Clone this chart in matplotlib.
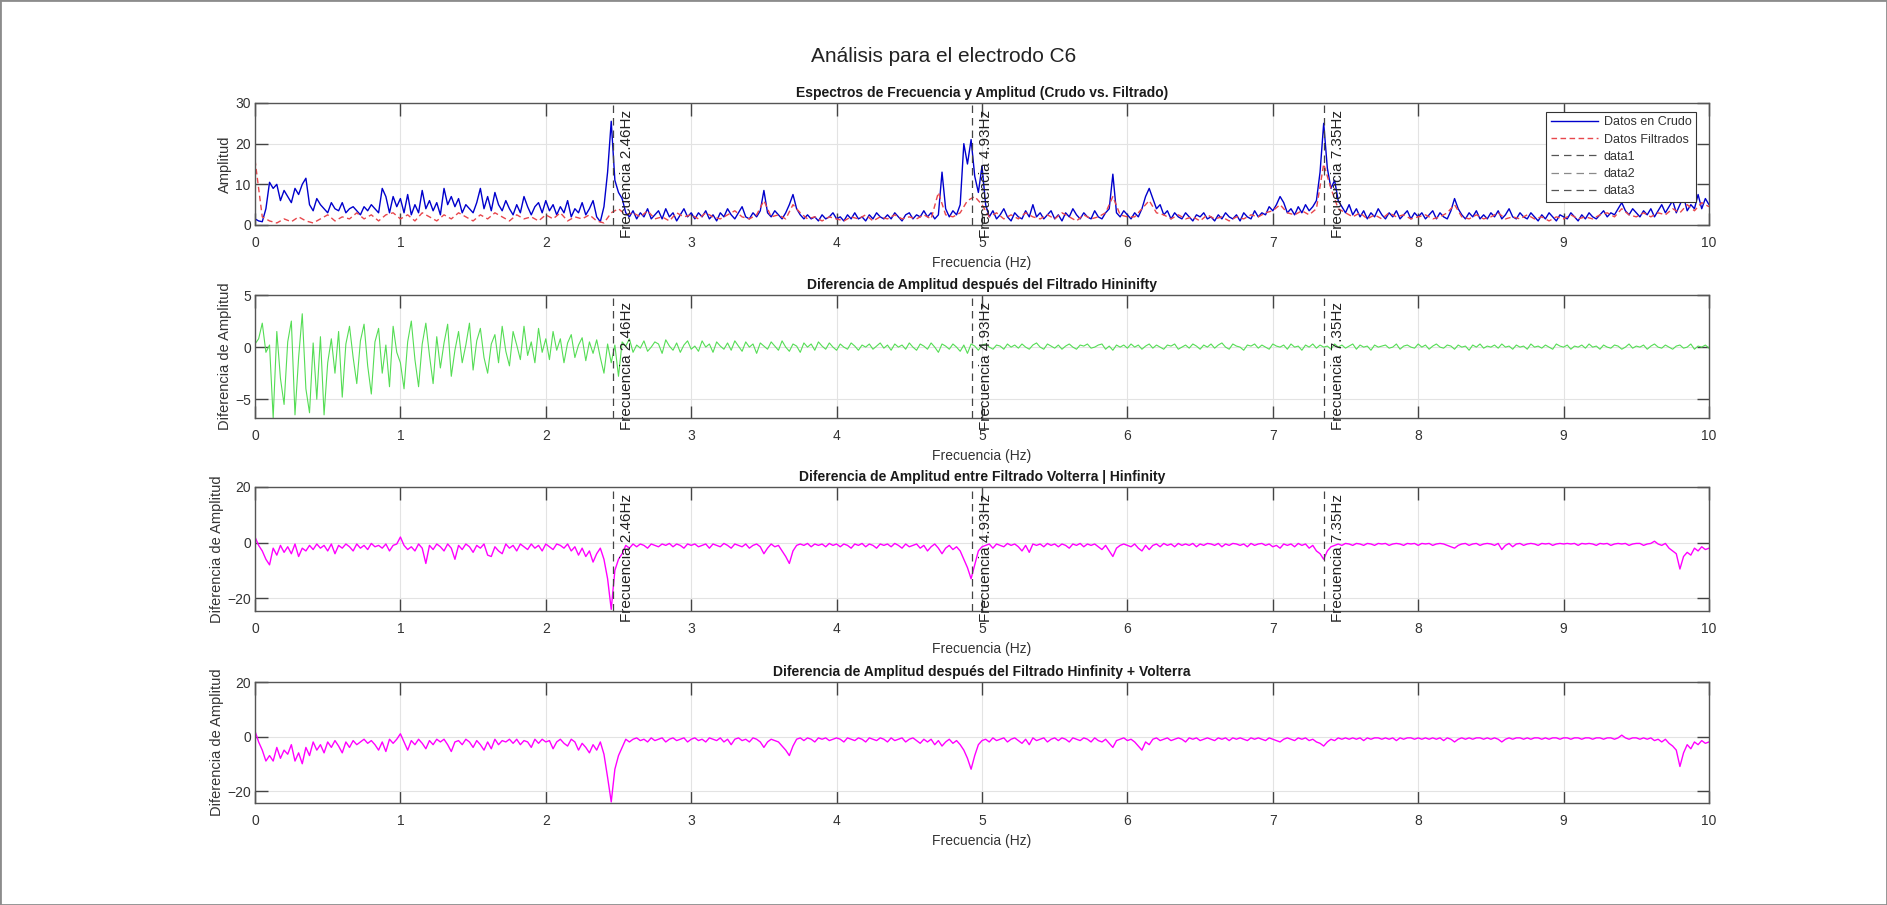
import numpy as np
import matplotlib.pyplot as plt
import matplotlib.transforms as mtransforms
from matplotlib.patches import Rectangle

plt.rcParams['font.family'] = ['Liberation Sans', 'DejaVu Sans']

# frequency grids (Hz)
freq = np.linspace(0, 10, 401)
freq_f = np.linspace(0, 10, 201)

# peaks marked with vertical lines
peak_freqs = [2.46, 4.93, 7.35]

# raw spectrum (Datos en Crudo), 0.025 Hz steps
raw = [
    1.5, 1.0, 0.8, 4.0, 10.5, 9.0, 10.0, 6.0, 8.5, 7.0,
    5.5, 9.0, 7.5, 10.0, 11.5, 5.0, 3.5, 6.5, 5.0, 4.0,
    3.0, 5.5, 4.0, 3.5, 5.5, 3.0, 4.0, 4.5, 3.5, 2.5,
    4.5, 3.5, 5.0, 4.0, 3.0, 9.0, 7.0, 3.0, 7.0, 4.5,
    6.5,
    3.0, 7.5, 2.5, 5.0, 3.0, 8.5, 4.0, 6.0, 3.5, 5.5,
    2.5, 9.0, 5.0, 7.0, 4.5, 6.5, 3.0, 5.0, 4.0, 3.0,
    5.5, 9.0, 4.0, 7.0, 3.5, 8.0, 5.0, 3.5, 6.0, 4.0,
    2.5, 5.0, 3.0, 7.0, 4.5, 2.5, 4.5, 5.5, 3.0, 6.0,
    3.5, 5.0, 2.5, 4.5, 3.0, 6.0, 2.0, 4.0, 3.0, 5.5,
    2.5, 4.0, 6.0, 2.0, 0.8, 4.5, 13.0, 25.5, 11.0, 8.0,
    6.5, 3.0, 2.0, 3.5, 1.5, 3.0, 2.0, 4.0, 1.5, 2.5,
    3.5, 1.5, 4.0, 2.0, 3.0, 1.0, 2.5, 4.0, 2.0, 3.0,
    1.5, 3.0, 2.0, 3.5, 1.5, 2.5, 1.0, 3.0, 2.0, 4.0,
    2.5, 1.5, 3.0, 4.5, 2.0, 1.5, 3.0, 2.0, 3.5, 8.5,
    3.0, 2.0, 3.5, 2.5, 1.5, 3.0, 5.0, 7.5, 4.0, 2.5,
    1.5, 2.5, 1.5, 2.0, 1.0, 2.5, 1.5, 2.0, 3.0, 1.5,
    2.0, 1.0, 2.5, 1.5, 3.0, 1.5, 2.0, 1.0, 2.5, 1.5,
    3.0, 2.0, 1.5, 2.5, 1.5, 3.0, 2.0, 1.0, 2.5, 3.0,
    1.5, 2.5, 2.0, 3.5, 2.0, 3.0, 1.5, 2.5, 13.0, 4.0,
    2.0, 3.5, 2.5, 5.0, 20.0, 15.0, 21.0, 12.0, 8.0, 14.5,
    5.0, 2.0, 3.5, 1.5, 2.5, 4.0, 2.0, 1.0, 3.0, 2.0,
    1.5, 3.5, 2.0, 5.0, 2.0, 3.0, 1.5, 2.5, 3.5, 1.5,
    2.5, 1.0, 3.0, 2.0, 4.0, 2.5, 1.5, 3.0, 2.0, 1.5,
    3.5, 2.0, 1.5, 3.0, 4.0, 12.5, 3.0, 2.0, 3.5, 2.5,
    1.5, 3.0, 2.0, 4.0, 7.0, 9.0, 6.5, 4.0, 5.0, 2.5,
    3.5, 1.5, 3.0, 2.0, 1.5, 3.0, 2.0, 1.0, 2.5, 2.0,
    3.0, 1.5, 2.0, 1.0, 2.5, 1.5, 3.0, 2.0, 1.5, 2.5,
    1.0, 3.0, 2.0, 1.5, 3.5, 2.0, 3.0, 2.5, 4.5, 3.5,
    5.0, 7.0, 5.5, 3.0, 4.0, 2.5, 4.5, 3.0, 5.0, 3.5,
    4.5, 6.0, 13.0, 25.0, 14.0, 9.0, 11.0, 6.0, 4.5, 3.0,
    5.0, 2.5, 4.0, 2.0, 3.5, 1.5, 3.0, 2.0, 4.0, 2.5,
    1.5, 3.0, 2.0, 3.5, 1.5, 2.5, 3.5, 1.5, 3.0, 2.0,
    3.0, 1.5, 2.5, 3.5, 1.5, 3.0, 2.0, 1.5, 3.5, 6.5,
    4.0, 2.5, 1.5, 3.0, 2.0, 3.5, 1.5, 2.5, 1.5, 3.0,
    2.0, 3.5, 1.5, 2.5, 4.0, 2.0, 1.5, 3.0, 2.0, 1.5,
    3.0, 2.0, 1.0, 2.5, 1.5, 3.0, 2.0, 1.0, 2.5, 2.0,
    1.5, 3.0, 2.0, 1.0, 2.5, 1.5, 3.0, 2.0, 1.5, 2.5,
    3.5, 2.0, 3.0, 2.5, 4.0, 5.5, 3.5, 2.5, 4.0, 3.0,
    2.0, 3.5, 2.5, 4.0, 2.0, 3.5, 5.0, 3.0, 4.5, 6.0,
    3.0, 5.0, 7.0, 3.5, 5.0, 4.0, 7.5, 4.0, 6.5, 5.0,
]

# filtered spectrum (Datos Filtrados), 0.05 Hz steps
filtered = [
    16.0, 2.0, 1.0, 0.5, 1.5, 0.8, 2.0, 1.0, 0.5, 1.5,
    2.5, 1.0, 2.0, 1.5, 3.0, 1.5, 2.5, 1.0, 2.5, 3.0,
    1.5,
    2.5, 1.0, 3.0, 2.0, 1.0, 2.5, 1.5, 3.0, 2.0, 1.0,
    2.5, 1.5, 3.0, 2.0, 1.0, 2.5, 1.5, 2.0, 1.0, 2.5,
    1.5, 3.0, 1.0, 2.0, 1.5, 2.5, 1.0, 0.5, 3.0, 4.0,
    2.5, 3.0, 2.0, 3.5, 1.5, 2.0, 1.0, 3.0, 2.0, 2.5,
    1.5, 3.0, 2.0, 1.5, 2.5, 3.5, 2.0, 1.5, 2.5, 6.0,
    2.0, 2.5, 1.5, 5.0, 3.0, 1.5, 2.0, 1.0, 2.0, 1.5,
    1.0, 2.0, 1.5, 2.5, 1.0, 2.0, 1.5, 2.5, 1.5, 2.0,
    1.5, 2.5, 1.5, 8.0, 2.5, 2.0, 3.0, 6.0, 7.0, 5.0,
    2.0, 3.0, 1.5, 2.5, 1.5, 3.0, 2.0, 1.5, 2.5, 1.5,
    3.0, 2.0, 1.0, 2.5, 1.5, 2.0, 3.0, 7.0, 2.5, 2.0,
    2.0, 4.0, 6.0, 3.0, 2.5, 1.5, 2.5, 1.5, 2.0, 1.0,
    2.5, 1.5, 2.0, 1.0, 2.0, 1.5, 2.5, 2.0, 3.0, 3.5,
    5.0, 3.0, 2.5, 3.5, 2.5, 4.0, 15.0, 9.0, 4.0, 3.0,
    2.0, 3.0, 1.5, 2.5, 1.5, 3.0, 2.0, 2.5, 1.5, 2.0,
    2.5, 1.5, 2.0, 3.0, 5.0, 2.0, 1.5, 2.5, 1.5, 2.0,
    3.0, 1.5, 2.0, 1.5, 2.5, 1.5, 2.0, 1.0, 2.0, 1.5,
    2.5, 1.5, 2.0, 1.5, 2.5, 3.0, 2.0, 4.0, 2.5, 2.0,
    3.0, 2.0, 3.0, 2.5, 4.0, 3.0, 5.0, 3.5, 5.5, 4.5,
]

# difference after Hinfinity filtering
diff_hinf = [
    0.3, 0.8, 2.3, -0.5, 0.2, -6.8, 1.5, -3.0, -5.5, 0.5,
    2.5, -6.5, -1.0, 3.2, -4.0, -6.3, 0.4, -5.0, 1.0, -6.5,
    -1.5, 0.8, -2.5, 1.5, -4.8, 0.3, 2.0, -1.0, -3.5, 0.6,
    2.2, -1.8, -4.5, 0.5, 1.8, -2.5, 0.2, -3.8, 2.0, -0.5,
    -1.5,
    -4.0, 0.5, 2.5, -1.2, -3.8, 0.3, 2.3, -0.8, -3.5, 1.0,
    -2.0, 0.4, 2.2, -2.8, -0.3, 1.5, -1.5, 0.2, 2.3, -2.2,
    0.6, 1.8, -1.0, -2.5, 0.3, 1.2, -1.5, 2.0, -0.4, -1.8,
    1.5, 0.2, -1.2, 2.0, -0.8, 0.5, -1.5, 1.8, -0.5, 0.8,
    -1.2, 1.5, -0.3, 0.8, -1.5, 0.4, 1.2, -1.0, 0.2, 0.9,
    -1.3, 0.5, -0.6, 0.7, -1.0, -2.5, 0.3, -1.5, 0.2, -2.8,
    0.5, 0.1, 0.8, -0.5, 0.2, -0.1, 0.6, -0.4, 0.0, 0.5,
    0.3, -0.6, 0.7, 0.1, -0.3, 0.4, -0.5, 0.2, 0.6, -0.2,
    0.1, -0.4, 0.6, 0.0, 0.3, -0.5, 0.5, 0.1, -0.2, 0.4,
    -0.3, 0.6, 0.1, -0.4, 0.5, 0.0, 0.3, -0.6, 0.4, 0.1,
    -0.2, 0.5, 0.1, -0.3, 0.6, 0.0, -0.4, 0.3, 0.1, -0.5,
    0.4, 0.0, 0.3, -0.3, 0.5, 0.1, -0.2, 0.4, 0.0, -0.3,
    0.3, 0.0, -0.2, 0.4, 0.1, -0.3, 0.2, 0.0, 0.3, -0.2,
    0.1, 0.4, -0.1, 0.2, -0.3, 0.3, 0.0, 0.2, -0.2, 0.4,
    0.0, -0.3, 0.3, 0.1, -0.2, 0.4, 0.0, -0.5, 0.3, 0.1,
    -0.2, 0.3, 0.0, -0.4, 0.2, -0.6, 0.3, 0.1, -0.3, 0.2,
    0.3, 0.0, -0.2, 0.2, 0.1, -0.2, 0.3, 0.0, 0.2, -0.1,
    0.3, 0.0, -0.2, 0.2, 0.4, 0.0, -0.2, 0.3, 0.1, -0.1,
    0.2, -0.2, 0.1, 0.3, 0.0, -0.2, 0.2, 0.1, 0.3, -0.1,
    0.0, 0.2, 0.3, -0.2, 0.1, -0.3, 0.2, 0.0, 0.2, -0.1,
    0.3, 0.0, 0.2, -0.2, 0.1, 0.3, -0.1, 0.2, 0.0, -0.2,
    0.2, 0.1, 0.3, -0.2, 0.0, 0.2, -0.1, 0.3, 0.1, -0.2,
    0.2, 0.0, 0.3, -0.1, 0.2, 0.4, 0.0, -0.2, 0.3, 0.1,
    0.0, -0.3, 0.2, 0.1, 0.3, -0.1, 0.2, 0.0, -0.2, 0.3,
    0.1, 0.0, 0.2, -0.2, 0.3, 0.0, 0.1, -0.3, 0.2, 0.0,
    0.3, -0.1, 0.2, 0.0, 0.1, -0.2, 0.3, 0.0, 0.2, -0.1,
    0.1, 0.3, -0.2, 0.2, 0.0, 0.1, -0.3, 0.2, 0.0, 0.1,
    0.2, -0.1, 0.0, 0.3, -0.2, 0.1, 0.2, 0.0, -0.1, 0.3,
    0.0, 0.2, -0.2, 0.1, 0.3, 0.0, -0.1, 0.2, 0.1, -0.2,
    0.2, 0.0, 0.1, -0.3, 0.2, 0.0, 0.3, -0.1, 0.1, 0.0,
    0.2, -0.1, 0.3, 0.0, 0.1, -0.2, 0.2, 0.0, 0.1, -0.2,
    0.3, 0.0, 0.1, -0.1, 0.2, 0.0, -0.2, 0.3, 0.1, 0.0,
    0.2, -0.2, 0.1, 0.0, 0.2, -0.1, 0.3, 0.0, 0.1, -0.2,
    0.2, 0.0, -0.1, 0.2, 0.1, -0.2, 0.0, 0.3, -0.1, 0.1,
    0.0, 0.2, -0.2, 0.1, 0.3, 0.0, -0.1, 0.2, 0.0, -0.2,
    0.1, 0.2, -0.1, 0.0, 0.3, -0.2, 0.1, 0.0, 0.2, -0.1,
]

# difference between Volterra and Hinfinity filtering
diff_volt_hinf = [
    2.0, -1.0, -3.0, -6.0, -8.0, -2.0, -4.5, -1.0, -3.5, -1.5,
    -4.0, -0.5, -5.0, -2.0, -3.0, -1.0, -2.5, -0.5, -2.0, -1.0,
    -3.0, -0.5, -4.0, -1.0, -2.0, -0.5, -1.5, -3.0, -0.5, -2.0,
    -1.0, -2.5, -0.3, -1.5, -1.0, -2.0, -0.5, -3.0, -1.0, -0.5,
    2.0,
    -1.0, -2.5, -1.5, -3.0, -0.5, -2.0, -7.5, -1.0, -2.5, -0.5,
    -1.5, -3.0, -0.5, -2.0, -6.0, -1.0, -2.5, -0.5, -1.5, -3.5,
    -1.0, -2.0, -0.5, -4.5, -5.0, -1.5, -3.0, -4.0, -0.5, -2.0,
    -1.0, -3.0, -0.5, -1.5, -2.5, -0.5, -2.0, -1.0, -3.0, -0.5,
    -1.5, -2.5, -0.5, -1.0, -2.0, -0.5, -3.0, -1.5, -4.5, -2.0,
    -5.0, -3.0, -7.0, -4.0, -2.0, -6.0, -13.0, -24.0, -10.0, -6.0,
    -4.0, -1.0, -2.0, -0.5, -1.5, -0.5, -1.0, -2.0, -0.5, -1.0,
    -1.5, -0.5, -1.0, -0.3, -1.5, -0.5, -1.0, -2.0, -0.5, -1.0,
    -0.5, -1.5, -1.0, -0.5, -2.0, -0.5, -1.0, -1.5, -0.3, -1.0,
    -2.0, -0.5, -1.0, -1.5, -0.5, -2.0, -1.0, -0.5, -1.5, -4.0,
    -2.0, -0.5, -1.5, -1.0, -3.0, -5.0, -7.5, -3.0, -1.0, -0.5,
    -1.0, -0.3, -1.5, -0.5, -1.0, -0.5, -1.5, -0.3, -1.0, -0.5,
    -1.5, -0.5, -1.0, -2.0, -0.5, -1.0, -0.3, -1.5, -0.5, -1.0,
    -2.0, -0.5, -1.0, -0.5, -1.5, -0.3, -1.0, -2.0, -0.5, -1.5,
    -1.0, -0.5, -2.0, -1.0, -3.0, -1.5, -0.5, -2.0, -4.0, -2.0,
    -1.0, -2.5, -1.5, -3.0, -6.0, -9.0, -13.0, -8.0, -3.0, -1.5,
    -1.0, -0.5, -2.0, -0.5, -1.0, -1.5, -0.3, -1.0, -0.5, -1.5,
    -3.0, -1.0, -3.5, -0.5, -1.0, -0.5, -1.5, -0.3, -1.0, -0.5,
    -1.5, -0.5, -1.0, -2.0, -0.5, -1.0, -0.3, -1.5, -0.5, -1.0,
    -0.5, -1.5, -2.5, -1.0, -3.0, -5.0, -2.0, -1.0, -0.5, -1.0,
    -1.5, -0.5, -2.0, -3.0, -1.0, -2.5, -1.0, -0.5, -1.5, -0.3,
    -1.0, -0.5, -1.5, -0.3, -1.0, -0.5, -1.0, -0.3, -1.5, -0.5,
    -1.0, -0.3, -0.5, -1.0, -0.3, -1.5, -0.5, -1.0, -0.3, -0.5,
    -1.0, -0.5, -1.5, -0.3, -1.0, -0.5, -0.3, -1.0, -0.5, -1.5,
    -1.0, -2.0, -0.5, -1.0, -0.5, -1.5, -0.3, -1.0, -0.5, -2.0,
    -1.0, -3.0, -4.0, -6.0, -3.0, -1.5, -1.0, -0.5, -1.0, -0.3,
    -0.5, -1.0, -0.3, -0.5, -1.0, -0.3, -0.5, -1.0, -0.3, -0.5,
    -0.3, -1.0, -0.5, -0.3, -0.5, -1.0, -0.3, -0.5, -0.3, -1.0,
    -0.3, -0.5, -0.3, -1.0, -0.5, -0.3, -0.5, -1.0, -1.5, -2.0,
    -1.0, -0.5, -0.3, -1.0, -0.5, -0.3, -1.0, -0.5, -0.3, -0.5,
    -1.0, -0.3, -2.5, -1.0, -0.3, -1.5, -0.5, -0.3, -1.0, -0.5,
    -0.3, -0.5, -1.0, -0.3, -0.5, -0.3, -1.0, -0.5, -0.3, -0.5,
    -0.3, -0.5, -0.3, -1.0, -0.3, -0.5, -0.3, -0.5, -1.0, -0.3,
    -0.5, -0.3, -1.0, -0.5, -0.3, -0.5, -0.3, -1.0, -0.5, -0.3,
    -0.3, -1.0, -0.5, -0.3, 0.5, -0.5, -1.0, -0.3, -2.0, -3.0,
    -4.0, -9.5, -5.0, -3.5, -4.5, -2.0, -3.0, -1.5, -2.5, -2.0,
]

# difference after Hinfinity + Volterra filtering
diff_hinf_volt = [
    2.0, -2.0, -5.0, -9.0, -7.0, -9.0, -4.0, -8.0, -5.0, -6.5,
    -3.0, -9.0, -6.0, -10.0, -4.0, -7.0, -2.0, -5.0, -3.0, -6.0,
    -2.0, -4.0, -1.5, -3.5, -6.0, -2.0, -4.0, -1.5, -3.0, -2.0,
    -1.0, -2.5, -1.5, -3.0, -5.0, -2.0, -5.5, -1.0, -2.5, -1.0,
    1.0,
    -2.0, -5.0, -1.5, -3.0, -1.0, -2.5, -4.5, -1.5, -3.0, -1.0,
    -2.0, -1.0, -3.0, -5.5, -2.0, -1.5, -3.0, -1.0, -2.0, -4.0,
    -1.5, -3.0, -5.0, -2.0, -4.5, -1.0, -3.0, -1.5, -2.0, -1.0,
    -2.5, -1.0, -3.0, -1.5, -2.0, -4.0, -1.0, -2.5, -1.0, -2.0,
    -1.5, -4.5, -2.0, -1.0, -2.5, -3.5, -1.0, -2.0, -5.0, -2.5,
    -4.0, -6.0, -3.0, -5.0, -2.0, -6.5, -15.0, -24.0, -12.0, -7.0,
    -4.0, -1.0, -2.0, -1.0, -0.5, -1.5, -1.0, -2.0, -0.5, -1.5,
    -1.0, -0.5, -2.0, -1.0, -0.5, -1.5, -1.0, -0.5, -2.0, -1.0,
    -0.5, -1.5, -1.0, -2.0, -0.5, -1.0, -1.5, -0.5, -2.0, -1.0,
    -3.0, -1.0, -0.5, -1.5, -1.0, -2.0, -0.5, -1.0, -2.0, -4.0,
    -2.0, -1.0, -1.5, -2.0, -3.5, -5.0, -7.0, -3.5, -1.0, -0.5,
    -1.5, -0.5, -1.0, -2.0, -0.5, -1.0, -0.5, -1.5, -1.0, -0.5,
    -1.0, -2.0, -0.5, -1.0, -1.5, -0.5, -1.0, -2.0, -0.5, -1.0,
    -1.5, -0.5, -1.0, -2.0, -0.5, -1.5, -1.0, -0.5, -2.0, -1.0,
    -0.5, -1.5, -2.5, -1.0, -2.0, -1.0, -3.0, -1.5, -3.5, -2.0,
    -1.0, -2.5, -1.5, -3.0, -5.0, -8.0, -12.0, -7.0, -3.0, -1.5,
    -1.0, -2.0, -0.5, -1.5, -1.0, -0.5, -2.0, -1.0, -0.5, -1.5,
    -2.5, -1.0, -3.0, -0.5, -1.5, -1.0, -0.5, -2.0, -1.0, -0.5,
    -1.5, -0.5, -1.0, -2.0, -0.5, -1.0, -1.5, -0.5, -1.0, -2.0,
    -0.5, -1.5, -2.0, -1.0, -2.5, -4.0, -1.5, -1.0, -0.5, -1.5,
    -1.0, -2.0, -3.5, -5.0, -2.0, -3.0, -1.0, -0.5, -1.5, -1.0,
    -0.5, -1.5, -1.0, -0.5, -1.0, -2.0, -0.5, -1.0, -0.5, -1.5,
    -1.0, -0.5, -1.0, -1.5, -0.5, -1.0, -0.5, -1.5, -0.5, -1.0,
    -0.5, -1.0, -1.5, -0.5, -1.0, -0.5, -1.0, -1.5, -0.5, -1.0,
    -1.5, -2.0, -1.0, -0.5, -1.0, -1.5, -0.5, -1.0, -0.5, -1.5,
    -1.0, -2.0, -2.5, -3.5, -2.0, -1.0, -1.5, -0.5, -1.0, -0.5,
    -1.0, -0.5, -1.0, -0.5, -1.5, -0.5, -1.0, -0.5, -0.5, -1.0,
    -0.5, -1.0, -0.5, -1.5, -0.5, -1.0, -0.5, -0.5, -1.0, -0.5,
    -1.0, -0.5, -1.0, -0.5, -1.0, -0.5, -1.5, -0.5, -1.0, -2.0,
    -1.0, -0.5, -1.0, -0.5, -1.0, -0.5, -0.5, -1.0, -0.5, -1.0,
    -0.5, -1.0, -2.0, -1.0, -0.5, -1.0, -0.5, -0.5, -1.0, -0.5,
    -1.0, -0.5, -0.5, -1.0, -0.5, -1.0, -0.5, -0.5, -1.0, -0.5,
    -0.5, -1.0, -0.5, -0.5, -1.0, -0.5, -0.5, -1.0, -0.5, -0.5,
    -1.0, -0.5, -0.5, -1.0, -0.5, 0.5, -0.5, -1.0, -0.5, -0.5,
    -1.0, -0.5, -1.0, -0.5, -1.5, -1.0, -2.0, -1.0, -2.5, -3.5,
    -5.0, -11.0, -6.0, -3.0, -4.5, -2.0, -3.0, -1.5, -2.5, -2.0,
]

x_ticks = list(range(0, 11))
titles = [
    'Espectros de Frecuencia y Amplitud (Crudo vs. Filtrado)',
    'Diferencia de Amplitud después del Filtrado Hininifty',
    'Diferencia de Amplitud entre Filtrado Volterra | Hinfinity',
    'Diferencia de Amplitud después del Filtrado Hinfinity + Volterra',
]
y_labels = ['Amplitud', 'Diferencia de Amplitud', 'Diferencia de Amplitud', 'Diferencia de Amplitud']
y_limits = [(0, 30), (-6.8, 5), (-24.6, 20), (-24.4, 20)]
y_ticks = [[0, 10, 20, 30], [-5, 0, 5], [-20, 0, 20], [-20, 0, 20]]

W, H = 1887, 905
fig = plt.figure(figsize=(W / 100, H / 100), dpi=100)

# axes boxes in pixels: (top, bottom)
boxes = [(103, 225), (295, 418), (487, 611), (682, 803)]
left, right = 255, 1709

axes = []
for top, bottom in boxes:
    ax = fig.add_axes([left / W, 1 - bottom / H, (right - left) / W, (bottom - top) / H])
    axes.append(ax)

ink = '#333333'
for k, ax in enumerate(axes):
    ax.set_xlim(0, 10)
    ax.set_ylim(*y_limits[k])
    ax.set_xticks(x_ticks)
    ax.set_yticks(y_ticks[k])
    ax.grid(True, color='#e3e3e3', linewidth=0.8)
    ax.set_axisbelow(True)
    ax.tick_params(direction='in', length=9, width=1, color='#444444',
                   labelsize=10, labelcolor=ink, top=True, right=True)
    ax.tick_params(axis='x', pad=8)
    ax.tick_params(axis='y', pad=3)
    for s in ax.spines.values():
        s.set_color('#555555')
        s.set_linewidth(1.0)
    ax.set_title(titles[k], fontsize=10, fontweight='bold', color='#1a1a1a', pad=4)
    ax.set_xlabel('Frecuencia (Hz)', fontsize=10, color=ink, labelpad=4)
    ax.set_ylabel(y_labels[k], fontsize=10.5, color=ink, labelpad=2)

# panel 1: spectra
ax = axes[0]
l_raw, = ax.plot(freq, raw, color='#0000cc', linewidth=1.0, label='Datos en Crudo')
l_filt, = ax.plot(freq_f, filtered, color='#e8474c', linewidth=1.0, linestyle=(0, (4, 2.5)),
                  label='Datos Filtrados')

axes[1].plot(freq, diff_hinf, color='#55dd55', linewidth=0.8)
axes[2].plot(freq, diff_volt_hinf, color='#ff00ff', linewidth=1.0)
axes[3].plot(freq, diff_hinf_volt, color='#ff00ff', linewidth=1.0)

# vertical peak markers on first three panels
vline_colors = ['#555555', '#8a8a8a', '#555555']
for k in range(3):
    ax = axes[k]
    trans = mtransforms.offset_copy(ax.get_xaxis_transform(), fig=fig, x=7, y=-7, units='dots')
    for j, pf in enumerate(peak_freqs):
        ax.axvline(pf, color='#444444', linewidth=0.9, linestyle=(0, (6, 4)))
        ax.text(pf, 1.0, 'Frecuencia %.2fHz' % pf, transform=trans, rotation=90,
                ha='left', va='top', fontsize=11, color='#222222', clip_on=False)

# legend entries for the xlines (data1..3)
handles = [l_raw, l_filt]
for j in range(3):
    h, = axes[0].plot([], [], color=vline_colors[j], linewidth=0.9, linestyle=(0, (6, 4)),
                      label='data%d' % (j + 1))
    handles.append(h)
ax_w = right - left
ax_h = boxes[0][1] - boxes[0][0]
leg = axes[0].legend(handles=handles, loc='upper right',
                     bbox_to_anchor=(1 - 13 / ax_w, 1 - 9 / ax_h), borderaxespad=0,
                     fontsize=9, frameon=True, fancybox=False, edgecolor='#333333',
                     framealpha=1, handlelength=3.8, labelspacing=0.42,
                     borderpad=0.35, handletextpad=0.45)
leg.get_frame().set_linewidth(0.8)
for t in leg.get_texts():
    t.set_color(ink)

fig.text(0.5, 1 - 57 / H, 'Análisis para el electrodo C6', ha='center', va='center',
         fontsize=15, color='#222222')

# outer frame of the image
fig.add_artist(Rectangle((0, 0), 1, 1, transform=fig.transFigure, fill=False,
                         edgecolor='#8c8c8c', linewidth=2))

fig.savefig('out.png', dpi=100)
